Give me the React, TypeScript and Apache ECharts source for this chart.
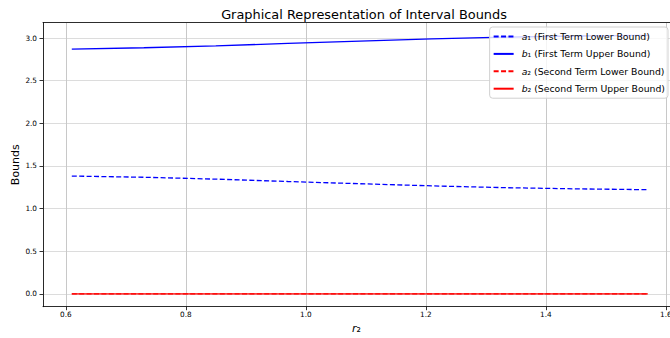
import React, { useEffect, useRef } from 'react';
import * as echarts from 'echarts';

const r2Values = [0.61, 0.73, 0.85, 0.97, 1.09, 1.21, 1.33, 1.45, 1.57];
const a1Values = [1.381, 1.367, 1.345, 1.317, 1.291, 1.266, 1.245, 1.231, 1.221];
const b1Values = [2.871, 2.886, 2.908, 2.937, 2.965, 2.991, 3.011, 3.024, 3.031];
const a2Values = [0, 0, 0, 0, 0, 0, 0, 0, 0];
const b2Values = [0, 0, 0, 0, 0, 0, 0, 0, 0];

const seriesNames = ['a1', 'b1', 'a2', 'b2'];
const legendTexts = [
  '{it|a}\u2081 (First Term Lower Bound)',
  '{it|b}\u2081 (First Term Upper Bound)',
  '{it|a}\u2082 (Second Term Lower Bound)',
  '{it|b}\u2082 (Second Term Upper Bound)',
];
const seriesColors = ['#0000ff', '#0000ff', '#ff0000', '#ff0000'];
const seriesDashed = [true, false, true, false];

const titleText = 'Graphical Representation of Interval Bounds';
const xName = '{it|r}\u2082';
const yName = 'Bounds';

const FONT = 'DejaVu Sans';

export default function App() {
  const ref = useRef<HTMLDivElement>(null);
  useEffect(() => {
    if (!ref.current) return;
    const chart = echarts.init(ref.current, null, { renderer: 'svg' });
    const allValues = [a1Values, b1Values, a2Values, b2Values];
    const series = seriesNames.map((name, i) => ({
      name,
      type: 'line',
      symbol: 'none',
      xAxisIndex: 0,
      data: r2Values.map((x, j) => [x, allValues[i][j]]),
      lineStyle: {
        color: seriesColors[i],
        width: 1.3,
        type: seriesDashed[i] ? [5, 2.4] : 'solid',
      },
      itemStyle: { color: seriesColors[i] },
      z: 2 + i,
    }));
    const xMin = 0.562;
    const xMax = 1.607;
    const option: any = {
      animation: false,
      backgroundColor: '#ffffff',
      title: {
        text: titleText,
        left: 359,
        textAlign: 'center',
        top: 3,
        textStyle: { fontFamily: FONT, fontSize: 12.9, fontWeight: 'normal', color: '#000' },
      },
      grid: {
        left: 43,
        top: 22.7,
        right: 0,
        bottom: 31.3,
        show: false,
        outerBoundsMode: 'none',
        containLabel: false,
      },
      legend: {
        orient: 'vertical',
        right: 2,
        top: 27,
        itemWidth: 20,
        itemHeight: 10,
        itemGap: 4.4,
        padding: [3, 3, 3, 3],
        backgroundColor: 'rgba(255,255,255,0.8)',
        borderColor: '#d0d0d0',
        borderWidth: 1,
        borderRadius: 3,
        data: seriesNames,
        itemStyle: { opacity: 0 },
        formatter: (name: string) => legendTexts[seriesNames.indexOf(name)],
        textStyle: {
          fontFamily: FONT,
          fontSize: 9.3,
          lineHeight: 13,
          color: '#000',
          padding: [0, 0, 0, 3],
          rich: {
            it: { fontFamily: FONT, fontSize: 9.3, fontStyle: 'italic', color: '#000' },
          },
        },
      },
      xAxis: [
        {
          type: 'value',
          min: xMin,
          max: xMax,
          minInterval: 0.2,
          maxInterval: 0.2,
          name: xName,
          nameLocation: 'middle',
          nameGap: 16,
          nameMoveOverlap: false,
          nameTextStyle: {
            fontFamily: FONT,
            fontSize: 11,
            color: '#000',
            rich: { it: { fontFamily: FONT, fontSize: 11, fontStyle: 'italic', color: '#000' } },
          },
          axisLine: { show: true, onZero: false, lineStyle: { color: '#000', width: 0.8 } },
          axisTick: { show: true, length: 3.5, lineStyle: { color: '#000', width: 0.8 } },
          axisLabel: {
            showMinLabel: false,
            showMaxLabel: false,
            hideOverlap: false,
            margin: 4,
            fontFamily: FONT,
            fontSize: 7.3,
            color: '#000',
            formatter: (v: number) => v.toFixed(1),
          },
          splitLine: { show: true, lineStyle: { color: '#c8c8c8', width: 1 } },
        },
        {
          type: 'value',
          position: 'top',
          min: xMin,
          max: xMax,
          axisLine: { show: true, onZero: false, lineStyle: { color: '#000', width: 0.8 } },
          axisTick: { show: false },
          axisLabel: { show: false },
          splitLine: { show: false },
        },
      ],
      yAxis: {
        type: 'value',
        min: -0.1515,
        max: 3.18,
        minInterval: 0.5,
        maxInterval: 0.5,
        name: yName,
        nameLocation: 'middle',
        nameGap: 22,
        nameMoveOverlap: false,
        nameTextStyle: { fontFamily: FONT, fontSize: 11, color: '#000' },
        axisLine: { show: true, onZero: false, lineStyle: { color: '#000', width: 0.8 } },
        axisTick: { show: true, length: 3.5, lineStyle: { color: '#000', width: 0.8 } },
        axisLabel: {
          showMinLabel: false,
          showMaxLabel: false,
          margin: 6,
          fontFamily: FONT,
          fontSize: 7.3,
          color: '#000',
          formatter: (v: number) => v.toFixed(1),
        },
        splitLine: { show: true, lineStyle: { color: '#dcdcdc', width: 1 } },
      },
      series,
    };
    chart.setOption(option);
    return () => chart.dispose();
  }, []);
  return (
    <div
      ref={ref}
      style={{ position: 'absolute', left: 0, top: 0, width: 670, height: 338 }}
    />
  );
}
